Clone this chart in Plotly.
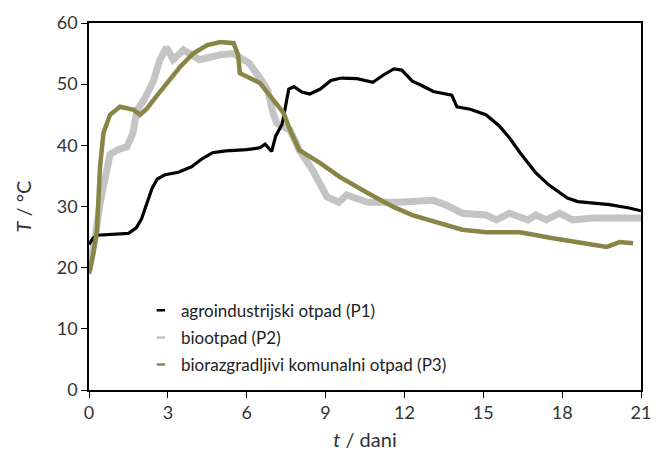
import plotly.graph_objects as go

# P1 agroindustrijski otpad
p1_days = [0, 0.15, 0.3, 1.0, 1.5, 1.8, 2.0, 2.2, 2.4, 2.6, 2.9, 3.4, 3.9, 4.3, 4.7, 5.2, 6.0, 6.5, 6.7, 6.95,
           7.1, 7.35, 7.5, 7.6, 7.8, 8.1, 8.4, 8.8, 9.2, 9.6, 10.2, 10.8, 11.2, 11.6, 11.9, 12.3, 12.6, 13.1,
           13.8, 14.0, 14.5, 15.1, 15.6, 16.0, 16.4, 17.0, 17.5, 18.2, 18.6, 19.2, 19.8, 20.5, 21.0]
p1_temp = [23.8, 24.8, 25.3, 25.4, 25.6, 26.5, 28, 30.5, 33, 34.5, 35.2, 35.6, 36.5, 37.8, 38.8, 39.1, 39.3, 39.6, 40.2, 39.0,
           41.5, 43.5, 47, 49.2, 49.6, 48.7, 48.4, 49.2, 50.6, 51.0, 50.9, 50.3, 51.5, 52.5, 52.3, 50.5, 49.9, 48.8,
           48.2, 46.3, 45.9, 45.0, 43.2, 41.2, 38.8, 35.5, 33.5, 31.4, 30.8, 30.5, 30.3, 29.8, 29.3]

# P2 biootpad
p2_days = [0, 0.2, 0.42, 0.6, 0.8, 1.1, 1.45, 1.67, 1.83, 2.1, 2.45, 2.7, 2.95, 3.2, 3.6, 4.2, 5.0, 5.5, 6.1, 6.5,
           6.8, 7.0, 7.15, 7.4, 7.65, 8.0, 8.5, 9.05, 9.5, 9.8, 10.6, 11.8, 13.1, 13.6, 14.2, 15.1, 15.5, 16.0,
           16.7, 17.0, 17.4, 17.9, 18.4, 19.2, 21.0]
p2_temp = [19.5, 24, 30.5, 35, 38.5, 39.3, 39.8, 42, 45.8, 47.5, 50.5, 54, 56, 54, 55.6, 54, 54.8, 55, 53.4, 51,
           49, 45.3, 43.6, 43, 42.5, 39.2, 36, 31.6, 30.7, 31.9, 30.7, 30.7, 31.0, 30.2, 28.9, 28.6, 27.8, 28.9,
           27.8, 28.6, 27.8, 28.9, 27.8, 28.1, 28.1]

# P3 biorazgradljivi komunalni otpad
p3_days = [0, 0.15, 0.3, 0.42, 0.55, 0.8, 1.18, 1.7, 1.94, 2.2, 2.45, 2.95, 3.46, 3.96, 4.5, 5.0, 5.5, 5.67, 5.74,
           6.5, 7.0, 7.4, 7.65, 8.0, 8.8, 9.55, 10.6, 11.6, 12.3, 13.2, 14.2, 15.1, 16.4, 17.65, 18.7, 19.7, 20.2, 20.7]
p3_temp = [19, 22, 26, 36.5, 42, 45, 46.3, 45.8, 45, 46, 47.4, 50.2, 52.8, 55, 56.4, 56.9, 56.7, 54.8, 51.8,
           50.2, 47.4, 45.3, 42.5, 39.2, 37.1, 34.8, 32.2, 29.9, 28.6, 27.4, 26.2, 25.8, 25.8, 24.8, 24.0, 23.4, 24.2, 24.0]

series_names = ["agroindustrijski otpad (P1)", "biootpad (P2)", "biorazgradljivi komunalni otpad (P3)"]
x_ticks = [0, 3, 6, 9, 12, 15, 18, 21]
y_ticks = [0, 10, 20, 30, 40, 50, 60]

c1, c2, c3 = "#000000", "#c4c4c4", "#8a8446"
font = "Lato, 'Open Sans', sans-serif"

fig = go.Figure()
fig.add_trace(go.Scatter(x=p2_days, y=p2_temp, mode="lines", line=dict(color=c2, width=7), showlegend=False))
fig.add_trace(go.Scatter(x=p1_days, y=p1_temp, mode="lines", line=dict(color=c1, width=3.2), showlegend=False))
fig.add_trace(go.Scatter(x=p3_days, y=p3_temp, mode="lines", line=dict(color=c3, width=4.5), showlegend=False))

for i, (name, c) in enumerate(zip(series_names, [c1, c2, c3])):
    fig.add_trace(go.Scatter(x=[None], y=[None], mode="markers", name=name, legendgroup=f"g{i}",
                             marker=dict(symbol="line-ew", size=6, line=dict(color=c, width=2.5))))

fig.update_layout(
    width=653, height=448,
    margin=dict(l=81, r=20, t=15, b=66, autoexpand=False),
    paper_bgcolor="white", plot_bgcolor="white",
    font=dict(family=font, color="#333333", size=18),
    legend=dict(x=0.094, y=0.265, xanchor="left", yanchor="top", bgcolor="rgba(0,0,0,0)",
                font=dict(size=17, color="#222222"), itemwidth=30, tracegroupgap=2),
    xaxis=dict(range=[0, 21], tickvals=x_ticks, ticks="outside", ticklen=6, tickcolor="black",
               showline=True, linecolor="black", linewidth=1.5, mirror=True, showgrid=False, zeroline=False,
               automargin=False,
               title=dict(text="<i>t</i> / dani", font=dict(size=20), standoff=11)),
    yaxis=dict(range=[0, 60], tickvals=y_ticks, ticks="outside", ticklen=6, tickcolor="black",
               showline=True, linecolor="black", linewidth=1.5, mirror=True, showgrid=False, zeroline=False,
               automargin=False,
               title=dict(text="<i>T</i> / °C", font=dict(size=20), standoff=20)),
)

fig.write_html("out.html")
